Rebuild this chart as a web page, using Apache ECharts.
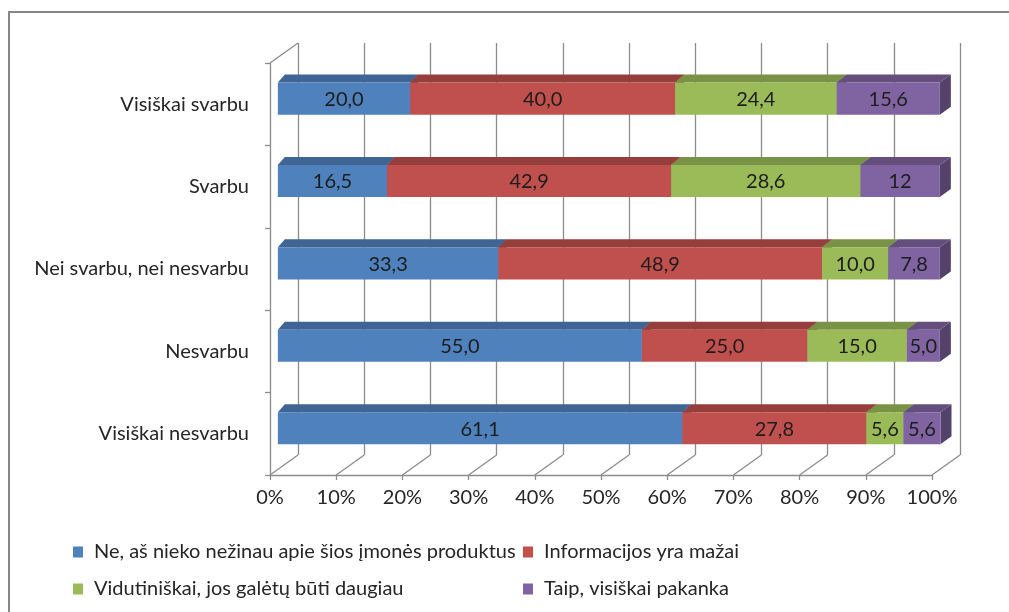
<!DOCTYPE html>
<html>
<head>
<meta charset="utf-8">
<script src="https://cdn.jsdelivr.net/npm/echarts@6/dist/echarts.min.js"></script>
<style>
  html, body { margin: 0; padding: 0; background: #ffffff; }
  #chart { width: 1009px; height: 612px; }
</style>
</head>
<body>
<div id="chart"></div>
<script>
// Answer categories (top to bottom)
const categories = [
  'Visiškai svarbu',
  'Svarbu',
  'Nei svarbu, nei nesvarbu',
  'Nesvarbu',
  'Visiškai nesvarbu'
];

// Series names (legend order)
const seriesNames = [
  'Ne, aš nieko nežinau apie šios įmonės produktus',
  'Informacijos yra mažai',
  'Vidutiniškai, jos galėtų būti daugiau',
  'Taip, visiškai pakanka'
];

// Shares in percent, written as they are printed on the bars
const notAware    = ['20,0', '16,5', '33,3', '55,0', '61,1'];
const littleInfo  = ['40,0', '42,9', '48,9', '25,0', '27,8'];
const moderate    = ['24,4', '28,6', '10,0', '15,0', '5,6'];
const enough      = ['15,6', '12',   '7,8',  '5,0',  '5,6'];

// Axis tick values (percent)
const xTicks = [0, 10, 20, 30, 40, 50, 60, 70, 80, 90, 100];

const seriesValues = [notAware, littleInfo, moderate, enough];
const colors = ['#4F81BD', '#C0504D', '#9BBB59', '#8064A2'];

const toNum = s => parseFloat(String(s).replace(',', '.'));

function shade(hex, k) {
  const n = parseInt(hex.slice(1), 16);
  const r = Math.round(((n >> 16) & 255) * k);
  const g = Math.round(((n >> 8) & 255) * k);
  const b = Math.round((n & 255) * k);
  return 'rgb(' + r + ',' + g + ',' + b + ')';
}

// oblique depth of the whole plot box (front plane -> back wall)
const DEPTH = [28, -20];
// bar placement within the depth
const BAR_FRONT = 0.28;
const BAR_DEPTH_Y = 8;
const FONT = 'Lato';
const FONT_SIZE = 20;
const TEXT_COLOR = '#262626';

// Build stacked segments: [categoryIndex, start, end, label]
const stacked = seriesValues.map(() => []);
categories.forEach((c, ci) => {
  let acc = 0;
  seriesValues.forEach((arr, si) => {
    const v = toNum(arr[ci]);
    stacked[si].push([ci, acc, acc + v, arr[ci]]);
    acc += v;
  });
});

function renderBar(color) {
  return function (params, api) {
    const ci = api.value(0);
    const start = api.value(1);
    const end = api.value(2);
    const label = stacked[params.seriesIndex - 1][params.dataIndex][3];
    const p0 = api.coord([start, ci]);
    const p1 = api.coord([end, ci]);
    const band = api.size([0, 1])[1];
    const h = band * 0.39;
    const ox = DEPTH[0] * BAR_FRONT;
    const oy = DEPTH[1] * BAR_FRONT;
    const xA = p0[0] + ox;
    const xB = p1[0] + ox;
    const yc = p0[1] + oy;
    const top = yc - h / 2;
    const bottom = yc + h / 2;
    const dxL = 7 + 4 * start / 100;
    const dxR = 7 + 4 * end / 100;
    const dy = BAR_DEPTH_Y;
    return {
      type: 'group',
      children: [
        {
          type: 'polygon',
          shape: { points: [[xB, top], [xB + dxR, top - dy], [xB + dxR, bottom - dy], [xB, bottom]] },
          style: { fill: shade(color, 0.66) }
        },
        {
          type: 'polygon',
          shape: { points: [[xA, top], [xB, top], [xB + dxR, top - dy], [xA + dxL, top - dy]] },
          style: { fill: shade(color, 0.78) }
        },
        {
          type: 'rect',
          shape: { x: xA, y: top, width: xB - xA, height: h },
          style: { fill: color }
        },
        {
          type: 'text',
          x: (xA + xB) / 2,
          y: yc + 1,
          style: {
            text: label,
            align: 'center',
            verticalAlign: 'middle',
            fill: '#1c1c1c',
            font: FONT_SIZE + 'px ' + FONT
          }
        }
      ]
    };
  };
}

// floor lines and the top edge of the side wall
function renderFrame(params, api) {
  const cs = params.coordSys;
  const v = api.value(0);
  const x = api.coord([v, 0])[0];
  const yb = cs.y + cs.height;
  const lineStyle = { stroke: '#8c8c8c', lineWidth: 1.3 };
  const children = [{
    type: 'line',
    shape: { x1: x, y1: yb, x2: x + DEPTH[0], y2: yb + DEPTH[1] },
    style: lineStyle
  }];
  if (params.dataIndex === 0) {
    children.push({
      type: 'line',
      shape: { x1: x, y1: cs.y, x2: x + DEPTH[0], y2: cs.y + DEPTH[1] },
      style: lineStyle
    });
  }
  return { type: 'group', children: children };
}

const gridFront = { left: 270, right: 77, top: 63, bottom: 137 };
const gridBack = {
  left: gridFront.left + DEPTH[0],
  right: gridFront.right - DEPTH[0],
  top: gridFront.top + DEPTH[1],
  bottom: gridFront.bottom - DEPTH[1]
};

const chart = echarts.init(document.getElementById('chart'), null, { renderer: 'canvas' });

const series = [{
  type: 'custom',
  name: 'frame',
  xAxisIndex: 0,
  yAxisIndex: 0,
  z: 1,
  silent: true,
  data: xTicks.map(t => [t]),
  renderItem: renderFrame
}];
seriesNames.forEach((name, si) => {
  series.push({
    type: 'custom',
    name: name,
    xAxisIndex: 0,
    yAxisIndex: 0,
    z: 3,
    itemStyle: { color: colors[si] },
    encode: { x: [1, 2], y: 0 },
    data: stacked[si].map(d => [d[0], d[1], d[2]]),
    renderItem: renderBar(colors[si])
  });
});

const legendBase = {
  orient: 'vertical',
  top: 537,
  itemGap: 17,
  itemWidth: 10,
  itemHeight: 11,
  icon: 'rect',
  textStyle: { fontSize: FONT_SIZE, color: TEXT_COLOR, fontFamily: FONT, padding: [0, 0, 0, 6] }
};

chart.setOption({
  animation: false,
  backgroundColor: '#ffffff',
  textStyle: { fontFamily: FONT },
  graphic: [{
    type: 'rect',
    shape: { x: 9, y: 12, width: 1100, height: 700 },
    style: { fill: 'none', stroke: '#878787', lineWidth: 2 },
    z: -10
  }],
  grid: [
    Object.assign({}, gridFront),
    Object.assign({}, gridBack)
  ],
  xAxis: [{
    gridIndex: 0,
    type: 'value',
    min: 0,
    max: 100,
    interval: 10,
    axisLine: { show: true, lineStyle: { color: '#8c8c8c', width: 1.3 } },
    axisTick: { show: true, length: 5, lineStyle: { color: '#8c8c8c', width: 1.3 } },
    splitLine: { show: false },
    axisLabel: {
      formatter: '{value}%',
      fontSize: FONT_SIZE,
      color: TEXT_COLOR,
      fontFamily: FONT,
      margin: 13
    }
  }, {
    gridIndex: 1,
    type: 'value',
    min: 0,
    max: 100,
    interval: 10,
    axisLine: { show: false },
    axisTick: { show: false },
    axisLabel: { show: false },
    splitLine: { show: true, lineStyle: { color: '#8c8c8c', width: 1.3 } }
  }],
  yAxis: [{
    gridIndex: 0,
    type: 'category',
    inverse: true,
    data: categories,
    axisLine: { show: true, lineStyle: { color: '#8c8c8c', width: 1.3 } },
    axisTick: { show: true, length: 5, lineStyle: { color: '#8c8c8c', width: 1.3 } },
    axisLabel: {
      fontSize: FONT_SIZE,
      color: TEXT_COLOR,
      fontFamily: FONT,
      margin: 21
    }
  }, {
    gridIndex: 1,
    type: 'category',
    inverse: true,
    data: categories,
    show: false
  }],
  legend: [
    Object.assign({ data: [seriesNames[0], seriesNames[2]], left: 68 }, legendBase),
    Object.assign({ data: [seriesNames[1], seriesNames[3]], left: 518 }, legendBase)
  ],
  series: series
});
</script>
</body>
</html>
